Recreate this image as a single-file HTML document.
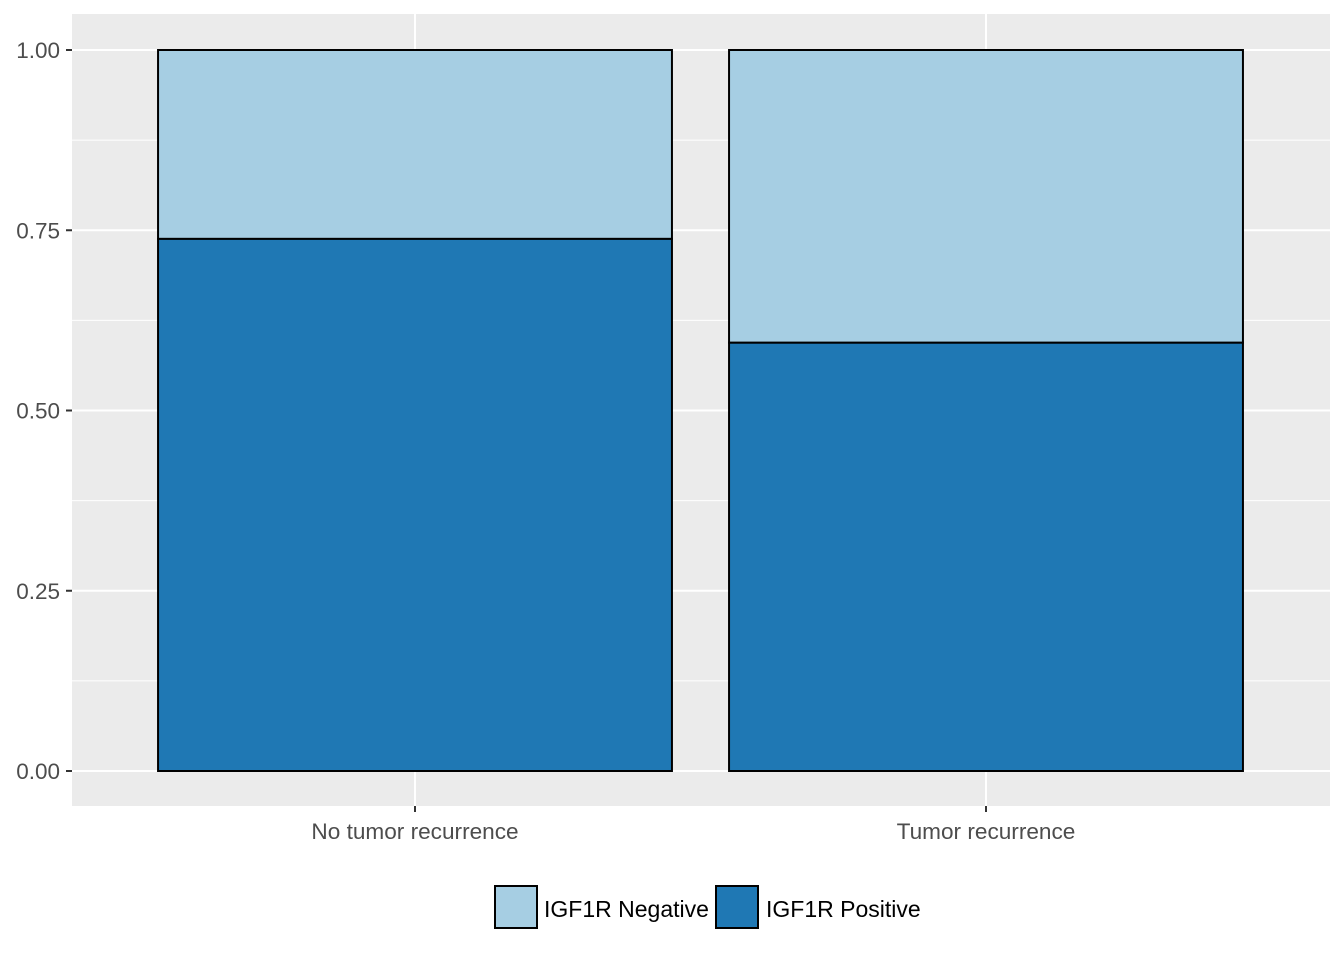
<!DOCTYPE html>
<html><head><meta charset="utf-8"><style>body{margin:0;background:#fff}svg{display:block}</style></head>
<body>
<svg id="chart" width="1344" height="960" xmlns="http://www.w3.org/2000/svg" font-family="Liberation Sans, sans-serif"></svg>
<script>
const categories = ["No tumor recurrence", "Tumor recurrence"];
const positiveValues = [0.738, 0.594];
const negativeValues = [0.262, 0.406];
const yTicks = [0, 0.25, 0.5, 0.75, 1.0];
const yTickLabels = ["0.00", "0.25", "0.50", "0.75", "1.00"];

const svg = document.getElementById('chart');
const NS = "http://www.w3.org/2000/svg";
const px0 = 72, px1 = 1330, py0 = 14, py1 = 806;
const y = v => 771 - v * 721;
const step = 571;
const xc = i => 415 + step * i;
const bw = step * 0.9;
function el(tag, attrs, name, inter) {
  const e = document.createElementNS(NS, tag);
  for (const k in attrs) e.setAttribute(k, attrs[k]);
  
  
  svg.appendChild(e); return e;
}
el('rect', {x: px0, y: py0, width: px1 - px0, height: py1 - py0, fill: '#ebebeb'}, 'plot-panel', false);
for (let i = 0; i < yTicks.length - 1; i++) {
  const m = (yTicks[i] + yTicks[i + 1]) / 2;
  el('line', {x1: px0, x2: px1, y1: y(m), y2: y(m), stroke: '#fff', 'stroke-width': 1}, 'minor-gridline', false);
}
yTicks.forEach((t, i) => {
  el('line', {x1: px0, x2: px1, y1: y(t), y2: y(t), stroke: '#fff', 'stroke-width': 2}, 'major-gridline', false);
  el('line', {x1: 66, x2: 72, y1: y(t), y2: y(t), stroke: '#333', 'stroke-width': 2}, 'y-tick', false);
  const tx = el('text', {x: 60, y: y(t) + 8, 'text-anchor': 'end', 'font-size': 22.5, fill: '#4d4d4d'}, 'y-tick-label', false);
  tx.textContent = yTickLabels[i];
});
categories.forEach((c, i) => {
  el('line', {x1: xc(i), x2: xc(i), y1: py0, y2: py1, stroke: '#fff', 'stroke-width': 2}, 'x-gridline', false);
});
categories.forEach((c, i) => {
  const x0 = xc(i) - bw / 2;
  el('rect', {x: x0, y: y(positiveValues[i] + negativeValues[i]), width: bw, height: y(positiveValues[i]) - y(positiveValues[i] + negativeValues[i]), fill: '#a6cee3', stroke: '#000', 'stroke-width': 2}, 'bar-negative', true);
  el('rect', {x: x0, y: y(positiveValues[i]), width: bw, height: y(0) - y(positiveValues[i]), fill: '#1f78b4', stroke: '#000', 'stroke-width': 2}, 'bar-positive', true);
  el('line', {x1: xc(i), x2: xc(i), y1: py1, y2: py1 + 6, stroke: '#333', 'stroke-width': 2}, 'x-tick', false);
  const t = el('text', {x: xc(i), y: 839, 'text-anchor': 'middle', 'font-size': 22.6, fill: '#4d4d4d'}, 'x-tick-label', false);
  t.textContent = c;
});
el('rect', {x: 495, y: 886, width: 42, height: 42, fill: '#a6cee3', stroke: '#000', 'stroke-width': 2}, 'legend-key-negative', true);
const l1 = el('text', {x: 544, y: 917, 'font-size': 23, fill: '#000'}, 'legend-label-negative', false); l1.textContent = "IGF1R Negative";
el('rect', {x: 716, y: 886, width: 42, height: 42, fill: '#1f78b4', stroke: '#000', 'stroke-width': 2}, 'legend-key-positive', true);
const l2 = el('text', {x: 766, y: 917, 'font-size': 23, fill: '#000'}, 'legend-label-positive', false); l2.textContent = "IGF1R Positive";
</script>
</body></html>
